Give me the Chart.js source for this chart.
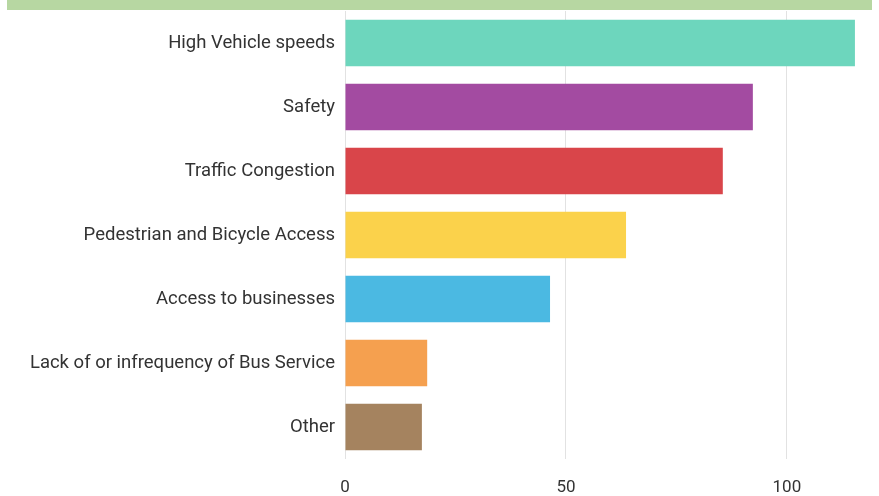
<!DOCTYPE html>
<html>
<head>
<meta charset="utf-8">
<script src="https://cdn.jsdelivr.net/npm/chart.js@4"></script>
<style>
    html, body { margin: 0; padding: 0; background: #fff; }
    #wrap { position: relative; width: 879px; height: 496px; }
    #banner { position: absolute; left: 7px; top: 0; width: 865px; height: 10px; background: #b7d7a2; }
    #chart { position: absolute; left: 0; top: 0; }
</style>
</head>
<body>
<div id="wrap">
    <canvas id="chart" width="879" height="496"></canvas>
    <div id="banner"></div>
</div>
<script>
// survey answers
const categories = [
    'High Vehicle speeds',
    'Safety',
    'Traffic Congestion',
    'Pedestrian and Bicycle Access',
    'Access to businesses',
    'Lack of or infrequency of Bus Service',
    'Other'
];
const counts = [115.4, 92.3, 85.5, 63.6, 46.4, 18.6, 17.4];
const barColors = ['#6dd6bd', '#a34ba1', '#d9454a', '#fbd24b', '#4bb9e2', '#f5a04f', '#a5835f'];
const tickValues = [0, 50, 100];

const ctx = document.getElementById('chart').getContext('2d');

new Chart(ctx, {
    type: 'bar',
    data: {
        labels: categories,
        datasets: [{
            data: counts,
            backgroundColor: barColors,
            borderWidth: 0,
            barPercentage: 0.73,
            categoryPercentage: 1
        }]
    },
    options: {
        indexAxis: 'y',
        responsive: false,
        animation: false,
        layout: {
            padding: { top: 11, right: 17, bottom: 0, left: 0 }
        },
        plugins: {
            legend: { display: false },
            tooltip: { enabled: false }
        },
        scales: {
            x: {
                min: 0,
                max: 117,
                afterBuildTicks: (scale) => {
                    scale.ticks = tickValues.map(v => ({ value: v }));
                },
                afterFit: (scale) => { scale.height = 37; },
                grid: {
                    color: '#e2e2e2',
                    drawTicks: false
                },
                border: { display: false },
                ticks: {
                    padding: 19,
                    color: '#333',
                    font: { family: 'Roboto', size: 17 }
                }
            },
            y: {
                afterFit: (scale) => {
                    scale.width = 345;
                    scale.paddingTop = 0;
                    scale.paddingBottom = 0;
                },
                grid: { display: false, tickLength: 0 },
                border: { display: false },
                ticks: {
                    padding: 10,
                    color: '#333',
                    font: { family: 'Roboto', size: 18.5 }
                }
            }
        }
    }
});
</script>
</body>
</html>
